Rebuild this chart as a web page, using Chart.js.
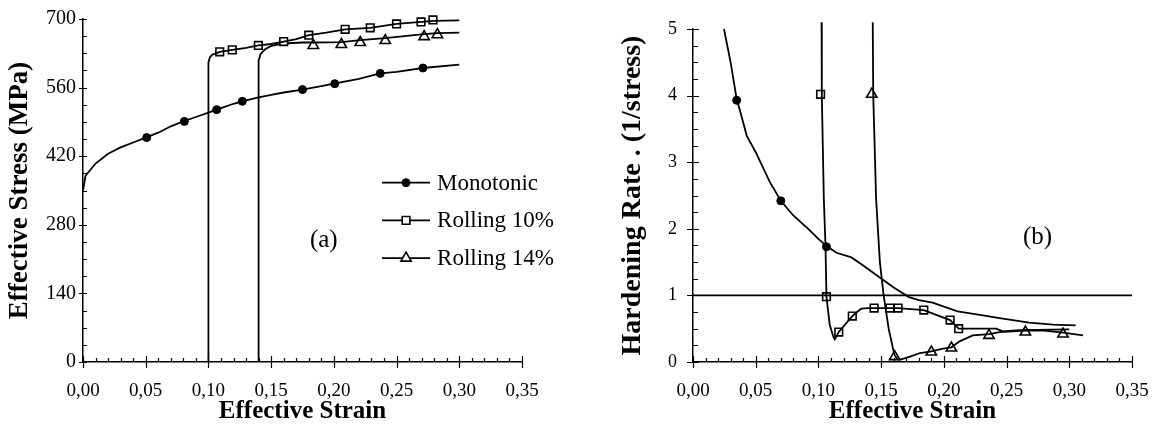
<!DOCTYPE html>
<html>
<head>
<meta charset="utf-8">
<script src="https://cdn.jsdelivr.net/npm/chart.js@4.4.1/dist/chart.umd.min.js"></script>
<style>
  body { margin: 0; background: #fff; }
  #left { position: absolute; left: 0; top: 0; }
  #right { position: absolute; left: 600px; top: 0; }
</style>
</head>
<body>
<canvas id="left" width="560" height="427"></canvas>
<canvas id="right" width="553" height="427"></canvas>
<script>
// series names
var seriesNames = ["Monotonic", "Rolling 10%", "Rolling 14%"];
var xTicks = [0, 0.05, 0.10, 0.15, 0.20, 0.25, 0.30, 0.35];

// (a) effective stress vs effective strain
var monoStrain = [0, 0.002, 0.01, 0.02, 0.03, 0.04, 0.05, 0.06, 0.07, 0.08, 0.09, 0.10, 0.11, 0.12, 0.13, 0.14, 0.15, 0.16, 0.175, 0.19, 0.20, 0.22, 0.237, 0.25, 0.271, 0.30];
var monoStress = [350, 380, 405, 425, 438, 448, 458, 468, 481, 491, 500, 509, 518, 527, 534, 540, 545, 550, 556, 563, 568, 578, 589, 592, 600, 607];
var monoMarkStrain = [0.0508, 0.0808, 0.1066, 0.127, 0.175, 0.2007, 0.237, 0.271];
var monoMarkStress = [458, 491, 515, 532, 556, 568, 589, 600];

var roll10Strain = [0.10, 0.10, 0.1012, 0.103, 0.106, 0.109, 0.119, 0.13, 0.14, 0.15, 0.16, 0.17, 0.18, 0.194, 0.209, 0.229, 0.25, 0.27, 0.28, 0.30];
var roll10Stress = [0, 612, 622, 627, 630, 633, 637, 641, 646, 649, 654, 659, 667, 672, 679, 682, 690, 694, 696, 697];
var roll10MarkStrain = [0.109, 0.119, 0.1398, 0.160, 0.180, 0.209, 0.229, 0.250, 0.2695, 0.279];
var roll10MarkStress = [633, 637, 646, 654, 667, 679, 682, 690, 694, 698];

var roll14Strain = [0.14, 0.14, 0.1415, 0.145, 0.15, 0.16, 0.175, 0.1836, 0.206, 0.221, 0.241, 0.26, 0.272, 0.2825, 0.30];
var roll14Stress = [0, 615, 628, 638, 645, 650, 652, 652, 653, 657, 661, 666, 669, 671, 672];
var roll14MarkStrain = [0.1836, 0.206, 0.221, 0.241, 0.272, 0.2825];
var roll14MarkStress = [646, 648, 652, 656, 664, 668];

// (b) hardening rate vs effective strain
var monoRateStrain = [0.0247, 0.03, 0.0348, 0.0374, 0.0428, 0.05, 0.0613, 0.070, 0.08, 0.0918, 0.10, 0.1064, 0.1144, 0.1263, 0.134, 0.1489, 0.16, 0.1722, 0.18, 0.191, 0.20, 0.211, 0.225, 0.2444, 0.268, 0.287, 0.305];
var monoRate = [5.0, 4.5, 3.95, 3.78, 3.40, 3.15, 2.70, 2.42, 2.2, 2.0, 1.85, 1.74, 1.64, 1.57, 1.47, 1.27, 1.12, 0.975, 0.93, 0.89, 0.83, 0.76, 0.72, 0.66, 0.59, 0.56, 0.55];
var monoRateMarkStrain = [0.0348, 0.070, 0.1064];
var monoRateMark = [3.93, 2.42, 1.73];

var roll10RateStrain = [0.1025, 0.1027, 0.1043, 0.1056, 0.1064, 0.109, 0.1117, 0.113, 0.1162, 0.127, 0.134, 0.14, 0.1444, 0.157, 0.1635, 0.184, 0.195, 0.205, 0.2118, 0.2418, 0.247, 0.26, 0.30];
var roll10Rate = [5.1, 4.0, 2.45, 1.77, 0.98, 0.56, 0.39, 0.34, 0.45, 0.69, 0.80, 0.81, 0.81, 0.81, 0.81, 0.78, 0.70, 0.63, 0.50, 0.50, 0.46, 0.48, 0.49];
var roll10RateMarkStrain = [0.1017, 0.1064, 0.1162, 0.127, 0.1444, 0.157, 0.1635, 0.184, 0.205, 0.2118];
var roll10RateMark = [4.02, 0.98, 0.45, 0.69, 0.81, 0.81, 0.81, 0.78, 0.63, 0.50];

var roll14RateStrain = [0.1433, 0.1437, 0.146, 0.149, 0.152, 0.156, 0.1595, 0.1608, 0.163, 0.165, 0.168, 0.173, 0.181, 0.190, 0.1993, 0.206, 0.2126, 0.223, 0.236, 0.2444, 0.265, 0.28, 0.295, 0.311];
var roll14Rate = [5.1, 4.0, 2.44, 1.5, 1.0, 0.5, 0.2, 0.1, 0.04, 0.035, 0.05, 0.08, 0.135, 0.16, 0.2, 0.22, 0.31, 0.40, 0.42, 0.45, 0.47, 0.47, 0.44, 0.40];
var roll14RateMarkStrain = [0.1425, 0.1608, 0.190, 0.206, 0.236, 0.265, 0.295];
var roll14RateMark = [4.02, 0.08, 0.15, 0.21, 0.40, 0.45, 0.42];

// reference line at hardening rate = 1
var unityStrain = [0, 0.35];
var unityRate = [1, 1];

var serif = "'Liberation Serif', 'Times New Roman', serif";
Chart.defaults.color = "#000";
Chart.defaults.font.family = serif;

function pts(xs, ys) {
  return xs.map(function(x, i) { return { x: x, y: ys[i] }; });
}

function curve(xs, ys) {
  return {
    data: pts(xs, ys), showLine: true, borderColor: "#000", borderWidth: 1.8,
    pointRadius: 0, tension: 0, clip: false
  };
}

function marks(xs, ys, style) {
  return {
    data: pts(xs, ys), showLine: false, pointStyle: style.shape,
    pointRadius: style.radius, borderColor: "#000", borderWidth: style.width,
    backgroundColor: style.fill, clip: false
  };
}

var markStyles = [
  { shape: "circle", radius: 4, width: 1, fill: "#000" },
  { shape: "rect", radius: 5.4, width: 1.6, fill: "#fff" },
  { shape: "triangle", radius: 6, width: 1.6, fill: "#fff" }
];

// tick marks: majors cross the axis, minors point inwards
var axisTicks = {
  id: "axisTicks",
  afterDraw: function(chart, args, o) {
    var ctx = chart.ctx, xs = chart.scales.x, ys = chart.scales.y, a = chart.chartArea;
    ctx.save();
    ctx.strokeStyle = "#000";
    ctx.lineWidth = 1.2;
    ctx.beginPath();
    var n = Math.round((xs.max - xs.min) / o.xMinor);
    for (var i = 0; i <= n; i++) {
      var v = xs.min + i * o.xMinor;
      var major = i % o.xEvery === 0;
      var px = Math.round(xs.getPixelForValue(v)) + 0.5;
      ctx.moveTo(px, a.bottom + (major ? o.xOut : 0));
      ctx.lineTo(px, a.bottom - (major ? o.xOut : o.xIn));
    }
    n = Math.round((ys.max - ys.min) / o.yMinor);
    for (i = 0; i <= n; i++) {
      v = ys.min + i * o.yMinor;
      major = i % o.yEvery === 0;
      var py = Math.round(ys.getPixelForValue(v)) + 0.5;
      ctx.moveTo(a.left - (major ? o.yOut : 0), py);
      ctx.lineTo(a.left + (major ? o.yOut : o.yIn), py);
    }
    ctx.stroke();
    ctx.restore();
  }
};

// panel label and legend drawn at data positions
var panelText = {
  id: "panelText",
  afterDraw: function(chart, args, o) {
    var ctx = chart.ctx, xs = chart.scales.x, ys = chart.scales.y;
    ctx.save();
    ctx.fillStyle = "#000";
    ctx.textBaseline = "middle";
    ctx.font = "25px " + serif;
    ctx.textAlign = "center";
    ctx.fillText(o.label, xs.getPixelForValue(o.labelAt[0]), ys.getPixelForValue(o.labelAt[1]));
    if (o.legend) {
      ctx.font = "23px " + serif;
      ctx.textAlign = "left";
      seriesNames.forEach(function(name, i) {
        var y = ys.getPixelForValue(o.legendY[i]);
        var x0 = xs.getPixelForValue(o.legendX[0]);
        var x1 = xs.getPixelForValue(o.legendX[1]);
        ctx.strokeStyle = "#000";
        ctx.lineWidth = 1.8;
        ctx.beginPath();
        ctx.moveTo(x0, y);
        ctx.lineTo(x1, y);
        ctx.stroke();
        var s = markStyles[i];
        ctx.lineWidth = s.width;
        ctx.fillStyle = s.fill;
        Chart.helpers.drawPoint(ctx, { pointStyle: s.shape, radius: s.radius, borderWidth: s.width }, (x0 + x1) / 2, y);
        ctx.fillStyle = "#000";
        ctx.fillText(name, x1 + 7, y + 1);
      });
    }
    ctx.restore();
  }
};

function xScale() {
  return {
    type: "linear", min: 0, max: 0.35,
    afterFit: function(s) { s.height = 65; },
    afterBuildTicks: function(s) { s.ticks = xTicks.map(function(v) { return { value: v }; }); },
    // tick marks are drawn by axisTicks; tickLength only pushes the labels down
    grid: { display: false, drawTicks: true, tickLength: 16 },
    border: { display: true, color: "#000", width: 1.5 },
    ticks: {
      padding: 2, font: { size: 19 },
      callback: function(v) { return v.toFixed(2).replace(".", ","); }
    },
    title: { display: true, text: "Effective Strain", font: { size: 25, weight: "bold" }, padding: 0 }
  };
}

new Chart(document.getElementById("left"), {
  type: "scatter",
  data: {
    datasets: [
      curve(monoStrain, monoStress), marks(monoMarkStrain, monoMarkStress, markStyles[0]),
      curve(roll10Strain, roll10Stress), marks(roll10MarkStrain, roll10MarkStress, markStyles[1]),
      curve(roll14Strain, roll14Stress), marks(roll14MarkStrain, roll14MarkStress, markStyles[2])
    ]
  },
  options: {
    responsive: false, animation: false,
    layout: { padding: { left: 0, right: 38, top: 18, bottom: 0 } },
    plugins: {
      legend: { display: false }, tooltip: { enabled: false },
      axisTicks: { xMinor: 0.01, xEvery: 5, xOut: 6, xIn: 4, yMinor: 35, yEvery: 4, yOut: 4, yIn: 4 },
      panelText: { label: "(a)", labelAt: [0.192, 248], legend: true, legendX: [0.2384, 0.2767], legendY: [366, 289, 212] }
    },
    scales: {
      x: xScale(),
      y: {
        type: "linear", min: 0, max: 700,
        afterFit: function(s) { s.width = 83; },
        grid: { display: false, drawTicks: false },
        border: { display: true, color: "#000", width: 1.5 },
        ticks: { stepSize: 140, padding: 7, font: { size: 20 } },
        title: { display: true, text: "Effective Stress (MPa)", font: { size: 27, weight: "bold" }, padding: { top: 4, bottom: 0 } }
      }
    }
  },
  plugins: [axisTicks, panelText]
});

new Chart(document.getElementById("right"), {
  type: "scatter",
  data: {
    datasets: [
      curve(unityStrain, unityRate),
      curve(monoRateStrain, monoRate), marks(monoRateMarkStrain, monoRateMark, markStyles[0]),
      curve(roll10RateStrain, roll10Rate), marks(roll10RateMarkStrain, roll10RateMark, markStyles[1]),
      curve(roll14RateStrain, roll14Rate), marks(roll14RateMarkStrain, roll14RateMark, markStyles[2])
    ]
  },
  options: {
    responsive: false, animation: false,
    layout: { padding: { left: 0, right: 21, top: 29, bottom: 0 } },
    plugins: {
      legend: { display: false }, tooltip: { enabled: false },
      axisTicks: { xMinor: 0.01, xEvery: 5, xOut: 6, xIn: 4, yMinor: 0.25, yEvery: 4, yOut: 6, yIn: 5 },
      panelText: { label: "(b)", labelAt: [0.2747, 1.87], legend: false }
    },
    scales: {
      x: xScale(),
      y: {
        type: "linear", min: 0, max: 5,
        afterFit: function(s) { s.width = 93; },
        grid: { display: false, drawTicks: false },
        border: { display: true, color: "#000", width: 1.5 },
        ticks: { stepSize: 1, padding: 16, font: { size: 18 } },
        title: { display: true, text: "Hardening Rate . (1/stress)", font: { size: 28, weight: "bold" }, padding: { top: 16, bottom: 0 } }
      }
    }
  },
  plugins: [axisTicks, panelText]
});
</script>
</body>
</html>
